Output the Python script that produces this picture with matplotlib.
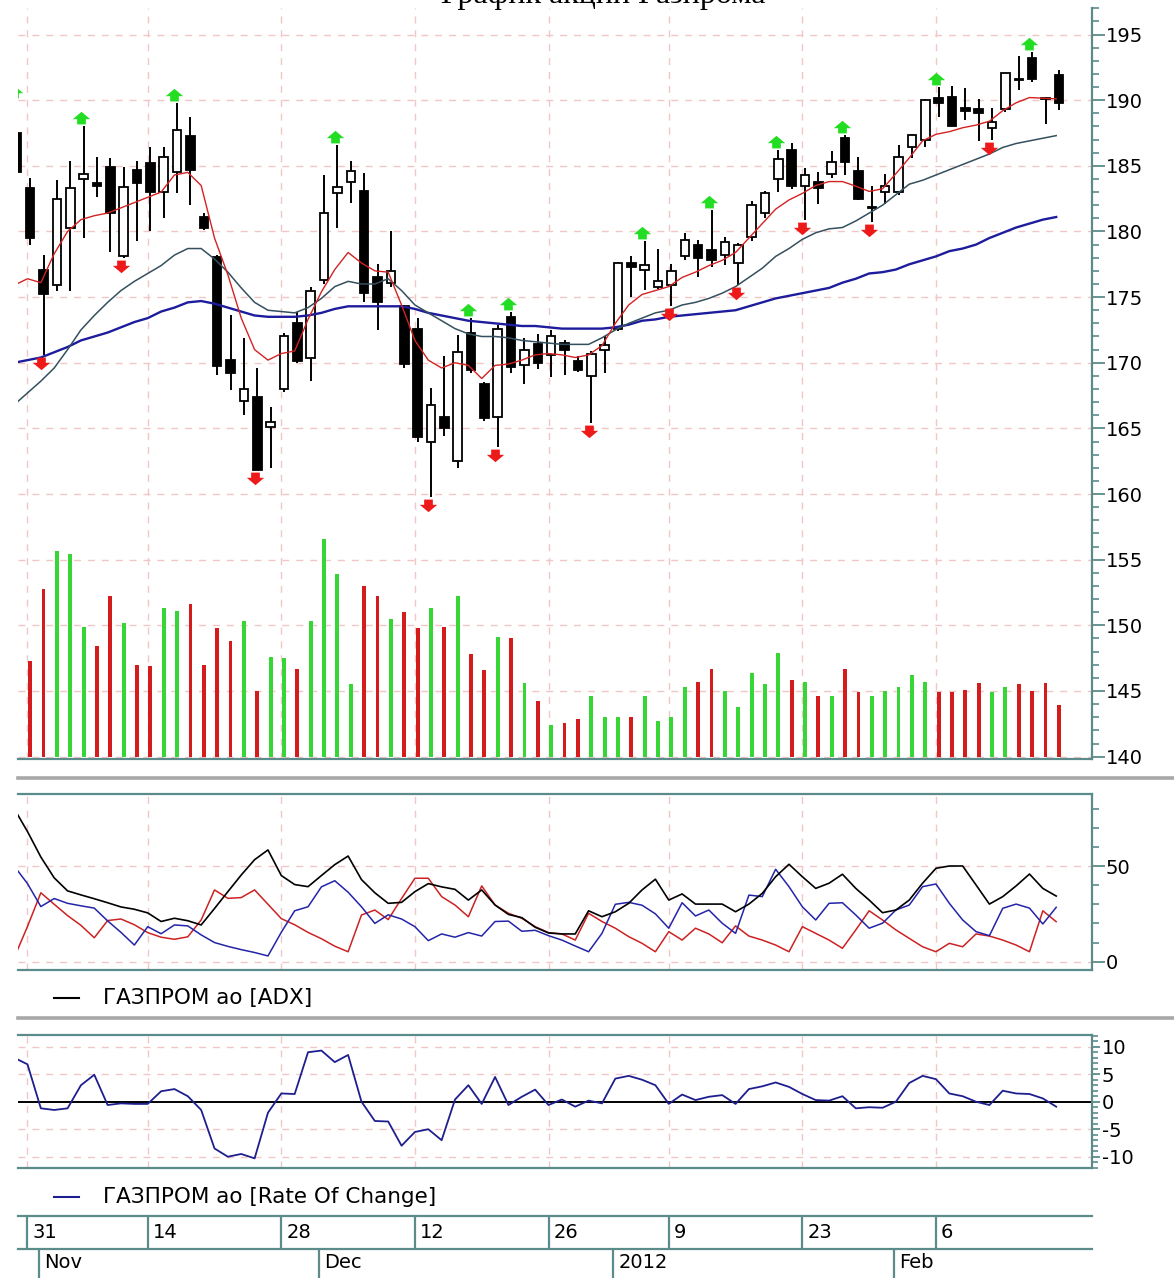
import numpy as np
import matplotlib
matplotlib.use("Agg")
import matplotlib.pyplot as plt
from matplotlib.path import Path
from matplotlib.transforms import ScaledTranslation
from matplotlib.lines import Line2D
from matplotlib.ticker import MultipleLocator, FixedLocator

plt.rcParams['font.family'] = ['DejaVu Sans']
plt.rcParams['axes.unicode_minus'] = False

# ---------------- data ----------------
bar_idx = list(range(-1, 78))
open_ = [187.5, 183.3, 177.1, 175.9, 180.3, 184.0, 183.7, 184.9, 178.1, 184.7, 185.2,
         183.0, 184.5, 187.3, 181.1, 178.05, 170.2, 167.1, 167.4, 165.1, 168.0,
         173.05, 170.4, 176.3, 182.9, 183.8, 183.1, 176.55, 176.05, 174.3, 172.6,
         164.0, 165.9, 162.5, 172.3, 168.4, 165.85, 173.5, 169.8, 171.4, 170.6,
         171.5, 170.15, 169.0, 171.0, 172.6, 177.6, 177.1, 175.8, 175.9, 178.1,
         179.0, 178.6, 178.2, 177.6, 179.6, 181.4, 184.0, 186.2, 183.45, 183.8,
         184.4, 187.1, 184.6, 181.75, 183.0, 183.0, 186.45, 187.0, 190.15, 190.25,
         189.4, 189.3, 187.9, 189.3, 191.65, 193.2, 190.2, 191.9]
high = [190.0, 184.1, 178.2, 183.9, 185.4, 188.0, 185.7, 185.6, 184.9, 185.4, 186.4,
        186.4, 189.8, 188.7, 181.4, 178.2, 173.6, 171.9, 169.6, 166.65, 172.3,
        173.9, 175.8, 184.3, 186.6, 185.4, 184.45, 177.5, 180.0, 174.4, 173.4,
        168.05, 170.5, 172.1, 173.4, 168.5, 172.9, 173.9, 171.9, 172.2, 172.5,
        171.75, 170.5, 170.9, 172.0, 177.7, 178.1, 179.3, 178.7, 177.5, 179.85,
        179.35, 181.6, 179.6, 179.1, 182.3, 183.1, 186.2, 186.7, 184.8, 184.5,
        186.1, 187.35, 185.7, 183.5, 184.4, 186.6, 187.4, 190.1, 191.0, 191.1,
        190.9, 190.1, 189.4, 192.1, 193.4, 193.7, 190.25, 192.3]
low = [183.8, 179.0, 170.6, 175.5, 175.5, 179.5, 182.6, 178.4, 178.0, 179.3, 180.0,
       181.0, 182.9, 182.0, 180.1, 169.1, 167.9, 166.0, 161.8, 162.0, 167.8,
       170.0, 168.6, 176.0, 180.3, 182.2, 174.65, 172.5, 175.8, 169.6, 164.0,
       159.8, 164.4, 162.0, 169.2, 165.6, 163.6, 169.2, 168.4, 169.5, 168.95,
       169.05, 169.3, 165.4, 169.2, 172.4, 175.0, 175.55, 175.6, 174.3, 177.8,
       176.55, 177.3, 177.45, 175.9, 179.3, 181.0, 183.0, 183.2, 180.9, 182.1,
       184.1, 184.3, 182.4, 180.75, 182.1, 182.8, 185.6, 186.45, 188.75, 188.0,
       188.5, 186.9, 187.0, 189.1, 190.8, 191.4, 188.2, 189.25]
close = [184.5, 179.5, 175.2, 182.5, 183.3, 184.4, 183.5, 181.4, 183.4, 183.7, 183.0,
         185.7, 187.7, 184.7, 180.3, 169.75, 169.2, 168.0, 161.8, 165.5, 172.05,
         170.1, 175.5, 181.4, 183.4, 184.6, 175.3, 174.65, 177.0, 169.9, 164.35,
         166.8, 165.0, 170.85, 169.45, 165.8, 172.55, 169.65, 171.0, 170.0, 172.05,
         171.0, 169.45, 170.7, 171.35, 177.6, 177.3, 177.45, 176.25, 177.0, 179.35,
         178.0, 177.8, 179.2, 179.0, 182.0, 182.95, 185.5, 183.45, 184.3, 183.3,
         185.3, 185.3, 182.5, 181.85, 183.5, 185.7, 187.35, 190.0, 189.75, 188.0,
         189.2, 189.0, 188.3, 192.1, 191.55, 191.6, 190.1, 189.75]

ma_fast = [175.9, 176.4, 176.1, 178.3, 180.0, 180.9, 181.2, 181.4, 181.8, 182.2, 182.6,
           183.0, 184.3, 184.5, 183.5, 179.5, 176.7, 173.4, 171.0, 170.2, 170.7,
           170.9, 173.3, 175.4, 177.1, 178.4, 177.6, 177.0, 176.9, 174.4, 171.7,
           170.2, 169.6, 170.0, 169.8, 168.8, 169.8, 169.9, 170.2, 170.6, 170.7,
           170.6, 170.4, 170.6, 171.3, 173.0, 174.4, 175.2, 175.5, 175.8, 176.5,
           176.9, 177.4, 177.8, 178.4, 179.5, 180.6, 181.7, 182.4, 182.9, 183.5,
           183.8, 183.8, 183.45, 183.05, 183.25, 184.4, 185.6, 186.9, 187.4, 187.6,
           187.9, 188.1, 188.4, 189.2, 189.8, 190.2, 190.15, 190.1]
ma_mid = [166.8, 167.7, 168.6, 169.6, 171.0, 172.5, 173.6, 174.6, 175.5, 176.2, 176.8,
          177.4, 178.2, 178.7, 178.7, 177.9, 176.9, 175.7, 174.6, 174.0, 173.9,
          173.8, 174.2, 174.9, 175.8, 176.2, 176.0, 176.0, 176.4, 175.5, 174.4,
          173.8, 173.2, 172.6, 172.2, 172.0, 172.0, 171.9, 171.7, 171.6, 171.5,
          171.4, 171.4, 171.4, 171.9, 172.5, 173.0, 173.4, 173.8, 174.0, 174.4,
          174.6, 174.9, 175.3, 175.8, 176.5, 177.2, 178.1, 178.7, 179.4, 179.9,
          180.2, 180.3, 180.8, 181.4, 182.0, 182.8, 183.6, 183.9, 184.3, 184.7,
          185.1, 185.5, 185.9, 186.4, 186.7, 186.9, 187.1, 187.3]
ma_slow = [170.0, 170.2, 170.4, 170.8, 171.2, 171.7, 172.0, 172.3, 172.7, 173.1, 173.4,
           173.9, 174.2, 174.6, 174.7, 174.5, 174.2, 173.9, 173.6, 173.5, 173.5,
           173.5, 173.6, 173.8, 174.1, 174.3, 174.3, 174.3, 174.3, 174.3, 174.1,
           173.8, 173.6, 173.4, 173.2, 173.1, 173.0, 172.9, 172.8, 172.8, 172.7,
           172.6, 172.6, 172.6, 172.6, 172.7, 172.9, 173.2, 173.3, 173.5, 173.6,
           173.7, 173.8, 173.9, 174.0, 174.3, 174.6, 174.9, 175.1, 175.3, 175.5,
           175.7, 176.1, 176.4, 176.8, 176.9, 177.1, 177.5, 177.8, 178.1, 178.5,
           178.7, 179.0, 179.5, 179.9, 180.3, 180.6, 180.9, 181.1]

vol_idx = list(range(0, 78))
volume = [147.3, 152.8, 155.7, 155.4, 149.9, 148.4, 152.2, 150.2, 147.0, 146.9,
          151.3, 151.1, 151.6, 147.0, 149.8, 148.8, 150.3, 145.0, 147.6, 147.5,
          146.7, 150.3, 156.6, 153.9, 145.5, 153.0, 152.2, 150.5, 151.0, 149.8,
          151.3, 149.9, 152.2, 147.8, 146.6, 149.1, 149.0, 145.6, 144.2, 142.4,
          142.6, 142.9, 144.6, 143.0, 143.0, 143.0, 144.6, 142.7, 143.0, 145.3,
          145.7, 146.7, 145.0, 143.8, 146.4, 145.5, 147.9, 145.8, 145.7, 144.6,
          144.6, 146.7, 144.9, 144.6, 145.0, 145.3, 146.2, 145.7, 144.9, 144.9,
          145.1, 145.6, 144.9, 145.3, 145.5, 145.0, 145.6, 143.9]
vol_dir = list("rrgggrrgrr" "ggrrrrgrgg" "rggggrrgrr" "grgrrgrgrg"
               "rrgggrgggg" "rrgggggrgr" "grrgggggrr" "rrggrrrr")

fractal_up = [-1, 4, 11, 23, 33, 36, 46, 51, 56, 61, 68, 75]
fractal_down = [1, 7, 17, 30, 35, 42, 48, 53, 58, 63, 72]

adx = [80.0, 68.0, 54.7, 43.8, 37.0, 34.9, 32.9, 30.8, 28.6, 27.4, 25.5,
       21.0, 22.7, 21.4, 19.2, 27.8, 36.6, 45.3, 53.3, 58.4, 45.0,
       40.3, 39.2, 45.0, 50.7, 55.2, 42.9, 36.0, 30.5, 31.0, 36.6,
       40.8, 39.1, 37.8, 32.2, 37.5, 29.6, 24.7, 23.0, 18.0, 15.0,
       14.5, 14.5, 26.6, 23.5, 26.1, 30.5, 37.5, 43.1, 32.2, 35.4,
       30.1, 30.1, 30.1, 26.1, 30.1, 35.7, 44.4, 50.9, 44.4, 38.3,
       41.0, 45.7, 38.3, 32.2, 25.6, 27.0, 32.2, 41.0, 48.8, 50.0,
       50.0, 40.1, 30.1, 34.0, 39.6, 45.8, 38.3, 34.3]
plus_di = [50.0, 40.8, 28.8, 33.0, 30.5, 29.2, 28.0, 21.3, 15.3, 8.7, 18.3,
           14.6, 19.2, 18.7, 14.0, 10.0, 8.0, 6.3, 4.8, 3.0, 15.4,
           26.6, 28.7, 39.1, 42.3, 36.3, 28.7, 20.0, 24.5, 22.3, 18.3,
           11.0, 14.5, 12.8, 15.2, 13.4, 21.0, 21.2, 15.9, 16.4, 13.6,
           11.3, 8.2, 5.2, 14.8, 30.0, 31.0, 29.5, 25.0, 17.5, 30.8,
           23.9, 27.0, 20.1, 14.8, 34.8, 34.0, 48.3, 39.2, 28.7, 21.8,
           30.5, 30.8, 24.4, 17.5, 20.1, 27.0, 29.6, 39.2, 40.6, 30.5,
           21.8, 15.7, 13.6, 27.9, 30.1, 28.0, 19.7, 28.4]
minus_di = [2.0, 18.4, 36.0, 30.0, 24.1, 19.0, 12.5, 21.5, 22.3, 19.3, 15.2,
            12.8, 11.7, 13.0, 21.8, 37.5, 33.1, 33.5, 37.5, 30.0, 22.5,
            19.3, 15.3, 12.0, 8.1, 5.2, 24.4, 27.0, 22.0, 33.0, 43.6,
            43.6, 34.0, 29.6, 23.5, 39.6, 29.6, 25.3, 22.7, 18.3, 15.2,
            14.5, 11.3, 25.3, 21.0, 17.5, 13.1, 9.6, 5.2, 15.7, 11.3,
            17.5, 14.5, 9.9, 18.7, 13.4, 11.3, 8.7, 5.2, 18.3, 14.8,
            11.3, 7.0, 16.6, 26.6, 21.8, 16.6, 12.2, 7.8, 5.2, 9.6,
            7.8, 14.5, 13.4, 11.3, 8.7, 5.2, 26.6, 20.9]
roc = [8.0, 6.8, -1.2, -1.5, -1.2, 3.0, 4.9, -0.6, -0.3, -0.4, -0.4,
       1.9, 2.3, 1.0, -1.5, -8.5, -10.0, -9.5, -10.3, -2.0, 1.5,
       1.4, 9.0, 9.3, 7.2, 8.5, 0.0, -3.5, -3.6, -8.0, -5.5,
       -5.0, -7.0, 0.4, 3.0, -0.4, 4.5, -0.6, 0.9, 2.2, -0.6,
       0.4, -0.9, 0.2, -0.3, 4.2, 4.7, 4.0, 3.0, -0.4, 1.3,
       0.3, 0.9, 1.2, -0.4, 2.3, 2.8, 3.5, 2.7, 1.4, 0.3,
       0.2, 1.0, -1.2, -1.0, -1.1, 0.0, 3.4, 4.7, 4.1, 1.5,
       1.0, 0.0, -0.6, 2.0, 1.5, 1.4, 0.6, -0.9]

day_ticks = [0, 9, 19, 29, 39, 48, 58, 68]
day_labels = ["31", "14", "28", "12", "26", "9", "23", "6"]
month_ticks = [1, 22, 44, 65]
month_labels = ["Nov", "Dec", "2012", "Feb"]

title = "График акций Газпрома"
legend_adx = "ГАЗПРОМ ао [ADX]"
legend_roc = "ГАЗПРОМ ао [Rate Of Change]"

# ---------------- style ----------------
W, H = 1174, 1278
TEAL = '#5b8b8b'
GRID = '#f0c6c6'
GRID_LS = (0, (5, 5))
RED = '#d41c1c'
GREEN = '#35d635'
CANDLE_SHIFT = 0.2
XLIM = (-0.71, 79.68)
FS = 14

fig = plt.figure(figsize=(W / 100, H / 100), dpi=100)
fig.patch.set_facecolor('white')


def box(left, top, right, bottom):
    return [left / W, 1 - bottom / H, (right - left) / W, (bottom - top) / H]


def style_panel(ax, spines_on):
    for s in ['top', 'bottom', 'left', 'right']:
        ax.spines[s].set_visible(s in spines_on)
        ax.spines[s].set_color(TEAL)
        ax.spines[s].set_linewidth(1.6)
    ax.set_facecolor('white')
    ax.set_xlim(*XLIM)
    ax.set_xticks(day_ticks)
    ax.tick_params(axis='x', length=0, labelbottom=False)
    ax.yaxis.tick_right()
    ax.tick_params(axis='y', which='major', length=9, width=1.3, color=TEAL,
                   labelsize=FS, pad=1, labelcolor='black')
    ax.tick_params(axis='y', which='minor', length=5, width=1.2, color=TEAL)
    ax.set_axisbelow(True)
    ax.grid(True, axis='x', color=GRID, linestyle=GRID_LS, linewidth=1.0)


# ---------------- main price panel ----------------
ax = fig.add_axes(box(18, 8, 1092, 759))
style_panel(ax, ['bottom', 'right'])
ax.set_ylim(139.82, 197.02)
ax.set_yticks(np.arange(140, 196, 5))
ax.yaxis.set_minor_locator(MultipleLocator(1))
ax.grid(True, axis='y', which='major', color=GRID, linestyle=GRID_LS, linewidth=1.0)

# volume bars (overlay on price scale)
vx = np.array(vol_idx) + CANDLE_SHIFT
vv = np.array(volume)
vcol = [RED if d == 'r' else GREEN for d in vol_dir]
ax.bar(vx, vv - 140, bottom=140, width=0.29, color=vcol, linewidth=0, zorder=2)

# candles
bx = np.array(bar_idx) + CANDLE_SHIFT
o = np.array(open_); c = np.array(close)
hi = np.array(high); lo = np.array(low)
ax.vlines(bx, lo, hi, color='black', linewidth=1.4, zorder=3)
body_bottom = np.minimum(o, c)
body_h = np.maximum(np.abs(c - o), 0.1)
faces = ['white' if cc >= oo else 'black' for oo, cc in zip(o, c)]
ax.bar(bx, body_h, bottom=body_bottom, width=0.64, color=faces,
       edgecolor='black', linewidth=1.3, zorder=4)

# moving averages
xi = np.array(bar_idx)
ax.plot(xi, ma_slow, color='#1c1c9c', linewidth=1.7, zorder=5)
ax.plot(xi, ma_mid, color='#34505e', linewidth=1.1, zorder=5)
ax.plot(xi, ma_fast, color='#d42222', linewidth=1.0, zorder=5)

# fractal arrows
up_path = Path([(0, 1), (1, 0.15), (0.5, 0.15), (0.5, -0.45), (-0.5, -0.45),
                (-0.5, 0.15), (-1, 0.15), (0, 1)],
               [Path.MOVETO] + [Path.LINETO] * 6 + [Path.CLOSEPOLY])
down_path = Path([(x, -y) for x, y in up_path.vertices], up_path.codes)
idx_pos = {b: k for k, b in enumerate(bar_idx)}
ux = np.array(fractal_up)
uy = np.array([high[idx_pos[b]] for b in fractal_up])
dx = np.array(fractal_down)
dy = np.array([low[idx_pos[b]] for b in fractal_down])
ax.plot(ux, uy, linestyle='none', marker=up_path, markersize=12.5,
        color='#22dd22', markeredgewidth=0, zorder=6,
        transform=ax.transData + ScaledTranslation(0, 6 / 100, fig.dpi_scale_trans))
ax.plot(dx, dy, linestyle='none', marker=down_path, markersize=12.5,
        color='#ee1a1a', markeredgewidth=0, zorder=6,
        transform=ax.transData + ScaledTranslation(0, -6 / 100, fig.dpi_scale_trans))

# ---------------- ADX panel ----------------
ax2 = fig.add_axes(box(18, 794, 1092, 970))
style_panel(ax2, ['top', 'bottom', 'right'])
ax2.set_ylim(-4.34, 87.62)
ax2.set_yticks([0, 50])
ax2.yaxis.set_minor_locator(FixedLocator([10, 20, 30, 40, 60, 70, 80]))
ax2.grid(True, axis='y', which='major', color=GRID, linestyle=GRID_LS, linewidth=1.0)
ax2.plot(xi, minus_di, color='#cc2222', linewidth=1.1)
ax2.plot(xi, plus_di, color='#2424a8', linewidth=1.1)
ax2.plot(xi, adx, color='black', linewidth=1.2)

# ---------------- ROC panel ----------------
ax3 = fig.add_axes(box(18, 1035, 1092, 1168))
style_panel(ax3, ['top', 'bottom', 'right'])
ax3.set_ylim(-12.05, 12.13)
ax3.set_yticks([-10, -5, 0, 5, 10])
ax3.yaxis.set_minor_locator(MultipleLocator(1))
ax3.tick_params(axis='y', which='major', length=6)
ax3.tick_params(axis='y', which='minor', length=4)
for lvl in [-10, -5, 5, 10]:
    ax3.axhline(lvl, color=GRID, linestyle=GRID_LS, linewidth=1.0, zorder=1)
ax3.axhline(0, color='black', linewidth=1.4, zorder=2)
ax3.plot(xi, roc, color='#1e1e8e', linewidth=1.3, zorder=3)

# ---------------- date axis ----------------
axd = fig.add_axes(box(18, 1216, 1092, 1278))
axd.set_xlim(*XLIM)
axd.set_ylim(0, 1)
axd.axis('off')
mid = (1278 - 1249) / 62
axd.plot(XLIM, [1, 1], color=TEAL, linewidth=1.6, clip_on=False)
axd.plot(XLIM, [mid, mid], color=TEAL, linewidth=1.6, clip_on=False)
axd.vlines(day_ticks, mid, 1, color=TEAL, linewidth=1.6)
axd.vlines(np.array(month_ticks) - 0.15, 0, mid, color=TEAL, linewidth=1.6)
off = ScaledTranslation(5 / 100, 0, fig.dpi_scale_trans)
for t, lab in zip(day_ticks, day_labels):
    axd.text(t, (1 + mid) / 2, lab, fontsize=FS, ha='left', va='center',
             transform=axd.transData + off)
for t, lab in zip(month_ticks, month_labels):
    axd.text(t - 0.15, mid / 2 + 0.02, lab, fontsize=FS, ha='left', va='center',
             transform=axd.transData + off)

# ---------------- separators, legends, title ----------------
for ysep in [778, 1018]:
    fig.add_artist(Line2D([18 / W, 1.0], [1 - ysep / H] * 2, color='#a8a8a8',
                          linewidth=2.6))

fig.add_artist(Line2D([54 / W, 79 / W], [1 - 998 / H] * 2, color='black', linewidth=1.5))
fig.text(103 / W, 1 - 998 / H, legend_adx, fontsize=15.5, va='center', ha='left')
fig.add_artist(Line2D([54 / W, 79 / W], [1 - 1197 / H] * 2, color='#1e1e8e', linewidth=1.5))
fig.text(103 / W, 1 - 1197 / H, legend_roc, fontsize=15.5, va='center', ha='left')

fig.text(603 / W, 1 - 3 / H, title, ha='center', va='baseline', fontsize=23,
         family=['Liberation Serif', 'DejaVu Serif'])

fig.savefig('out.png', dpi=100, facecolor='white')
